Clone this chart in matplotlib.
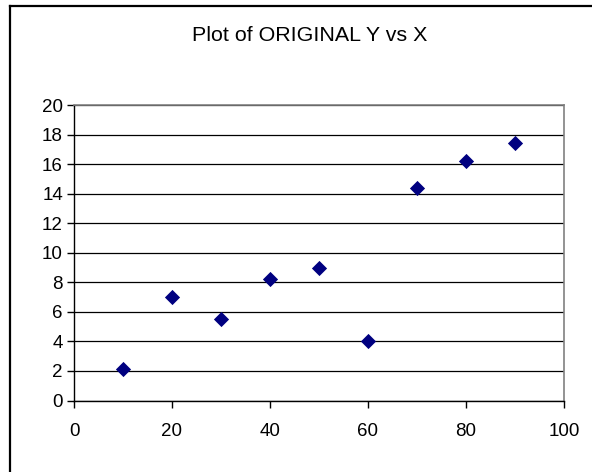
import matplotlib
matplotlib.use("Agg")
import matplotlib.pyplot as plt
from matplotlib.lines import Line2D

x_values = [10, 20, 30, 40, 50, 60, 70, 80, 90]
y_values = [2.1, 7.0, 5.5, 8.2, 9.0, 4.0, 14.4, 16.2, 17.4]
x_ticks = [0, 20, 40, 60, 80, 100]
y_ticks = [0, 2, 4, 6, 8, 10, 12, 14, 16, 18, 20]
title = "Plot of ORIGINAL Y vs X"

plt.rcParams['font.family'] = ['Liberation Sans', 'DejaVu Sans']

fig = plt.figure(figsize=(5.92, 4.72), dpi=100)
ax = fig.add_axes([74/592, 1 - 400.5/472, (564-74)/592, (400.5-105)/472])

ax.set_xlim(0, 100)
ax.set_ylim(0, 20)
ax.set_xticks(x_ticks)
ax.set_yticks(y_ticks)
ax.yaxis.grid(True, color='black', linewidth=0.9)
ax.set_axisbelow(True)
ax.scatter(x_values, y_values, marker='D', s=60, color='#000080', zorder=3, linewidths=0)

for side in ['top', 'right']:
    ax.spines[side].set_color('#808080')
    ax.spines[side].set_linewidth(1.2)
for side in ['left', 'bottom']:
    ax.spines[side].set_color('black')
    ax.spines[side].set_linewidth(1.0)

ax.tick_params(axis='both', direction='out', length=5, width=1, labelsize=13.5, colors='black')
ax.tick_params(axis='x', pad=11)
ax.tick_params(axis='y', pad=3)

fig.text(310/592, 1 - 35.5/472, title, ha='center', va='center', fontsize=15.4)

# outer chart border (left and top visible)
fig.add_artist(Line2D([9.5/592, 9.5/592], [0, 1 - 5.5/472], transform=fig.transFigure, color='black', linewidth=1.6))
fig.add_artist(Line2D([9.5/592, 1], [1 - 5.5/472, 1 - 5.5/472], transform=fig.transFigure, color='black', linewidth=1.6))

fig.savefig("out.png", dpi=100)
